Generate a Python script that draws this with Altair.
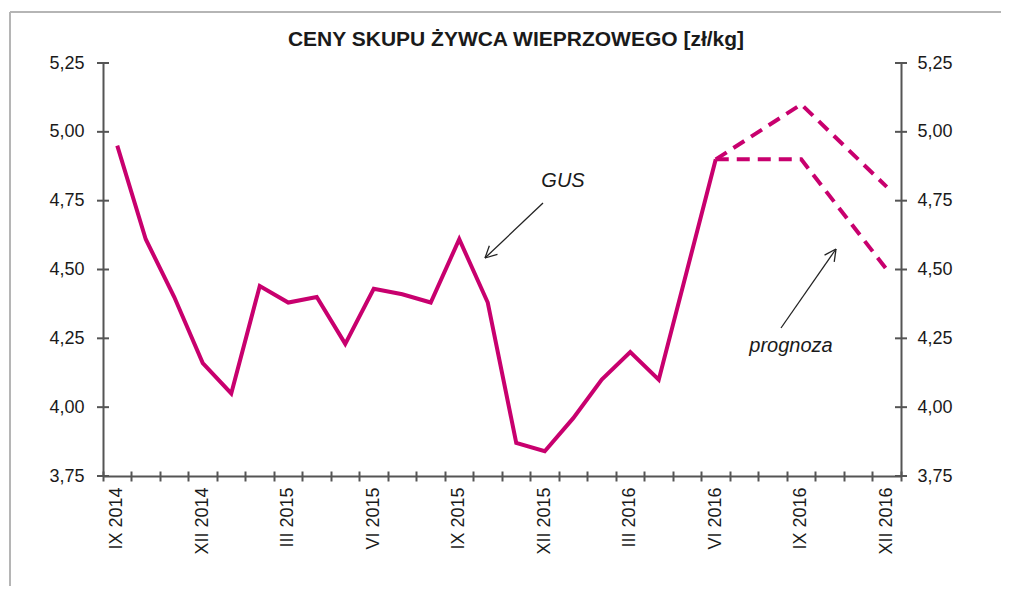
import math
import altair as alt
import pandas as pd

# ---------------- data ----------------
months = ["IX 2014", "X 2014", "XI 2014", "XII 2014",
          "I 2015", "II 2015", "III 2015", "IV 2015", "V 2015", "VI 2015",
          "VII 2015", "VIII 2015", "IX 2015", "X 2015", "XI 2015", "XII 2015",
          "I 2016", "II 2016", "III 2016", "IV 2016", "V 2016", "VI 2016",
          "VII 2016", "VIII 2016", "IX 2016", "X 2016", "XI 2016", "XII 2016"]
gus_months = months[:22]
gus_values = [4.95, 4.61, 4.40, 4.16, 4.05, 4.44, 4.38, 4.40, 4.23, 4.43, 4.41,
              4.38, 4.61, 4.38, 3.87, 3.84, 3.96, 4.10, 4.20, 4.10, 4.50, 4.90]
fc_months = ["VI 2016", "IX 2016", "XII 2016"]
fc_high = [4.90, 5.10, 4.80]
fc_low = [4.90, 4.90, 4.50]
y_ticks = [3.75, 4.00, 4.25, 4.50, 4.75, 5.00, 5.25]
x_label_months = months[::3]
title_text = "CENY SKUPU ŻYWCA WIEPRZOWEGO [zł/kg]"

# ---------------- style ----------------
W, H = 798, 413
MAG = "#C8006E"
AX = "#555555"
TXT = "#1a1a1a"
FONT = "Liberation Sans"
LFS = 18

df_gus = pd.DataFrame({"month": gus_months, "value": gus_values})
df_fc = pd.DataFrame({
    "month": fc_months * 2,
    "value": fc_high + fc_low,
    "scenario": ["wysoka"] * 3 + ["niska"] * 3,
})
df_months = pd.DataFrame({"month": months})
df_yt = pd.DataFrame({"v": y_ticks})
one = pd.DataFrame({"a": [0]})

xs = alt.Scale(type="band", domain=months, paddingInner=0, paddingOuter=0)
ys = alt.Scale(domain=[3.75, 5.25], nice=False, zero=False)
ylab = "replace(format(datum.value, '.2f'), '.', ',')"

x_axis = alt.Axis(orient="bottom", values=x_label_months, labelAngle=270,
                  labelAlign="right", labelBaseline="middle",
                  tickSize=5, tickOpacity=0, labelPadding=6,
                  domainColor=AX, domainWidth=2, grid=False,
                  labelFont=FONT, labelFontSize=LFS, labelColor=TXT, title=None)


def month_tick_axis(offset):
    """Tick-only axis with ticks on band boundaries (Excel-style)."""
    return alt.Axis(orient="bottom", labels=False, domain=False, grid=False,
                    ticks=True, tickSize=5, tickWidth=2, tickColor=AX,
                    bandPosition=1, tickExtra=True, offset=offset, title=None)


y_left = alt.Axis(orient="left", values=y_ticks, labelExpr=ylab,
                  tickSize=6, tickOpacity=0, labelPadding=13, domainColor=AX,
                  domainWidth=2, grid=False, labelFont=FONT, labelFontSize=LFS,
                  labelColor=TXT, title=None)
y_right = alt.Axis(orient="right", values=y_ticks, labelExpr=ylab,
                   tickSize=6, tickOpacity=0, labelPadding=10, domainColor=AX,
                   domainWidth=2, grid=False, labelFont=FONT, labelFontSize=LFS,
                   labelColor=TXT, title=None)

# invisible layers that carry the x axis (labels + line) and the crossing ticks
x_axis_layer = alt.Chart(df_months).mark_point(opacity=0).encode(
    x=alt.X("month:N", scale=xs, axis=x_axis), y=alt.value(H))
x_ticks_down = alt.Chart(df_months).mark_point(opacity=0).encode(
    x=alt.X("month:N", scale=xs, axis=month_tick_axis(0)), y=alt.value(H))
x_ticks_up = alt.Chart(df_months).mark_point(opacity=0).encode(
    x=alt.X("month:N", scale=xs, axis=month_tick_axis(-5)), y=alt.value(H))

gus = alt.Chart(df_gus).mark_line(color=MAG, strokeWidth=4).encode(
    x=alt.X("month:N", scale=xs, bandPosition=0.5, axis=None),
    y=alt.Y("value:Q", scale=ys, axis=y_left),
)

forecast = alt.Chart(df_fc).mark_line(color=MAG, strokeWidth=4,
                                      strokeDash=[13, 8]).encode(
    x=alt.X("month:N", scale=xs, bandPosition=0.5, axis=None),
    y=alt.Y("value:Q", scale=ys, axis=None),
    detail="scenario:N",
)

# crossing y tick marks (Excel style), both sides
y_ticks_left = alt.Chart(df_yt).mark_rule(color=AX, strokeWidth=2).encode(
    y=alt.Y("v:Q", scale=ys, axis=None),
    x=alt.value(-6), x2=alt.value(6),
)
y_ticks_right = alt.Chart(df_yt).mark_rule(color=AX, strokeWidth=2).encode(
    y=alt.Y("v:Q", scale=ys, axis=y_right),
    x=alt.value(W - 6), x2=alt.value(W + 6),
)

# chart-area frame (top and left edges visible)
frame_top = alt.Chart(one).mark_rule(color="#b5b5b5", strokeWidth=2).encode(
    x=alt.value(-93), x2=alt.value(W + 300), y=alt.value(-51))
frame_left = alt.Chart(one).mark_rule(color="#b5b5b5", strokeWidth=2).encode(
    x=alt.value(-93), y=alt.value(-51), y2=alt.value(H + 300))

title = alt.Chart(pd.DataFrame({"t": [title_text]})).mark_text(
    font=FONT, fontSize=21, fontWeight="bold", color=TXT, align="center",
    baseline="alphabetic").encode(text="t:N", x=alt.value(413), y=alt.value(-17))


def arrow(x0, y0, x1, y1, head=13, spread=27):
    """Line from tail (x0,y0) to tip (x1,y1) plus open arrowhead."""
    layers = [alt.Chart(one).mark_rule(color="#222222", strokeWidth=1.3).encode(
        x=alt.value(x0), y=alt.value(y0), x2=alt.value(x1), y2=alt.value(y1))]
    ang = math.atan2(y0 - y1, x0 - x1)
    for s in (-1, 1):
        a = ang + s * math.radians(spread)
        hx, hy = x1 + head * math.cos(a), y1 + head * math.sin(a)
        layers.append(alt.Chart(one).mark_rule(color="#222222", strokeWidth=1.3).encode(
            x=alt.value(x1), y=alt.value(y1), x2=alt.value(hx), y2=alt.value(hy)))
    return layers


gus_label = alt.Chart(pd.DataFrame({"t": ["GUS"]})).mark_text(
    font=FONT, fontSize=20, fontStyle="italic", color=TXT, align="center",
    baseline="alphabetic").encode(text="t:N", x=alt.value(460), y=alt.value(124))
prog_label = alt.Chart(pd.DataFrame({"t": ["prognoza"]})).mark_text(
    font=FONT, fontSize=20, fontStyle="italic", color=TXT, align="center",
    baseline="alphabetic").encode(text="t:N", x=alt.value(688), y=alt.value(289))

layers = [x_axis_layer, x_ticks_down, x_ticks_up, gus, forecast,
          y_ticks_left, y_ticks_right, frame_top, frame_left, title,
          gus_label, prog_label]
layers += arrow(440, 140, 382, 195)
layers += arrow(678, 265, 733, 186)

chart = (alt.layer(*layers)
         .resolve_scale(y="independent")
         .resolve_axis(x="independent")
         .properties(
             width=W, height=H,
             autosize=alt.AutoSizeParams(type="none"),
             padding={"left": 95, "top": 55, "right": 100, "bottom": 110},
             background="white",
         )
         .configure_view(stroke=None))

chart.save("out.html", embed_options={"renderer": "svg", "actions": False})
